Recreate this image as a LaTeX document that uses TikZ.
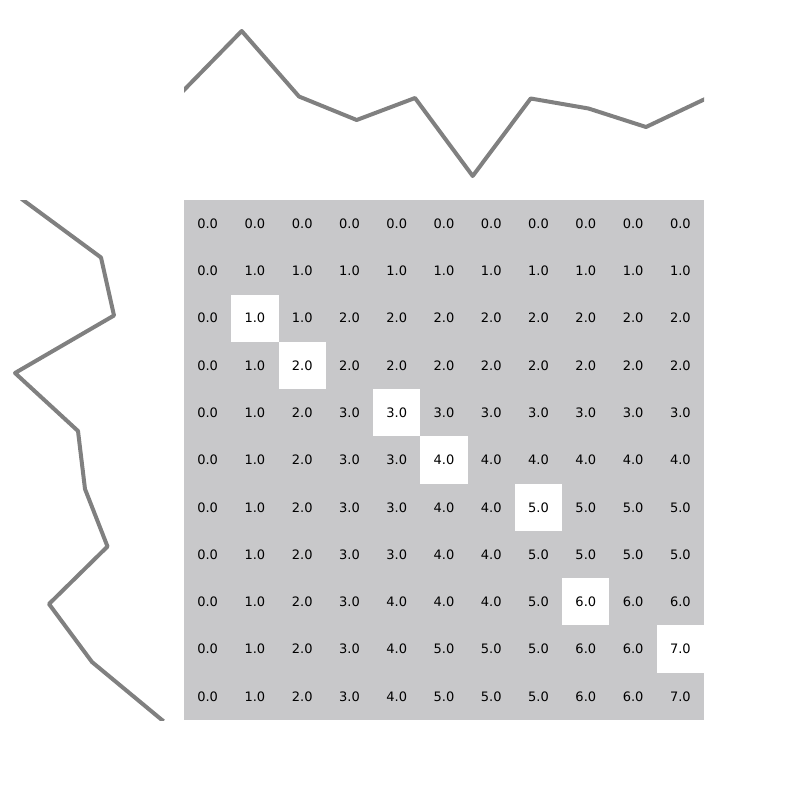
\documentclass[tikz,border=0pt]{standalone}
\usepackage{fontspec}
\setmainfont{DejaVu Sans}
\definecolor{gridgray}{RGB}{200,200,202}
\definecolor{linegray}{RGB}{128,128,128}
\begin{document}
\begin{tikzpicture}[x=1pt,y=-1pt,
  celltext/.style={inner sep=0pt, font=\fontsize{13}{15}\selectfont, text=black},
  series/.style={draw=linegray, line width=4pt, line join=round, line cap=rect}]
\useasboundingbox (0,0) rectangle (800,800);
\def\cs{47.2727}
\fill[gridgray] (184,200) rectangle (704,720);
\foreach \r/\c in {2/1,3/2,4/4,5/5,6/7,8/8,9/10}
  \fill[white] ({184+\c*\cs},{200+\r*\cs}) rectangle ++(\cs,\cs);
\foreach \row [count=\r from 0] in {
  {0,0,0,0,0,0,0,0,0,0,0},
  {0,1,1,1,1,1,1,1,1,1,1},
  {0,1,1,2,2,2,2,2,2,2,2},
  {0,1,2,2,2,2,2,2,2,2,2},
  {0,1,2,3,3,3,3,3,3,3,3},
  {0,1,2,3,3,4,4,4,4,4,4},
  {0,1,2,3,3,4,4,5,5,5,5},
  {0,1,2,3,3,4,4,5,5,5,5},
  {0,1,2,3,4,4,4,5,6,6,6},
  {0,1,2,3,4,5,5,5,6,6,7},
  {0,1,2,3,4,5,5,5,6,6,7}} {
  \foreach \v [count=\c from 0] in \row {
    \node[celltext] (c-\r-\c) at ({184+(\c+0.5)*\cs},{200+(\r+0.5)*\cs}) {\v.0};
  }
}
% top series
\coordinate (t0) at (184,90);
\coordinate (t1) at (241.7,31);
\coordinate (t2) at (299,96.5);
\coordinate (t3) at (356.7,120);
\coordinate (t4) at (415,98);
\coordinate (t5) at (472.7,176);
\coordinate (t6) at (530.7,98.5);
\coordinate (t7) at (588.5,108.5);
\coordinate (t8) at (646,127);
\coordinate (t9) at (704,99.5);
\begin{scope}
\clip (184,0) rectangle (704,200);
\draw[series] (t0) -- (t1) -- (t2) -- (t3) -- (t4) -- (t5) -- (t6) -- (t7) -- (t8) -- (t9);
\end{scope}
% left series
\coordinate (l0) at (23,200);
\coordinate (l1) at (101,257.5);
\coordinate (l2) at (114,315.5);
\coordinate (l3) at (15,373);
\coordinate (l4) at (78,431);
\coordinate (l5) at (85,489);
\coordinate (l6) at (107.5,546.5);
\coordinate (l7) at (49,604);
\coordinate (l8) at (92,662);
\coordinate (l9) at (162,720);
\begin{scope}
\clip (0,200) rectangle (184,720);
\draw[series] (l0) -- (l1) -- (l2) -- (l3) -- (l4) -- (l5) -- (l6) -- (l7) -- (l8) -- (l9);
\end{scope}
\end{tikzpicture}
\end{document}
